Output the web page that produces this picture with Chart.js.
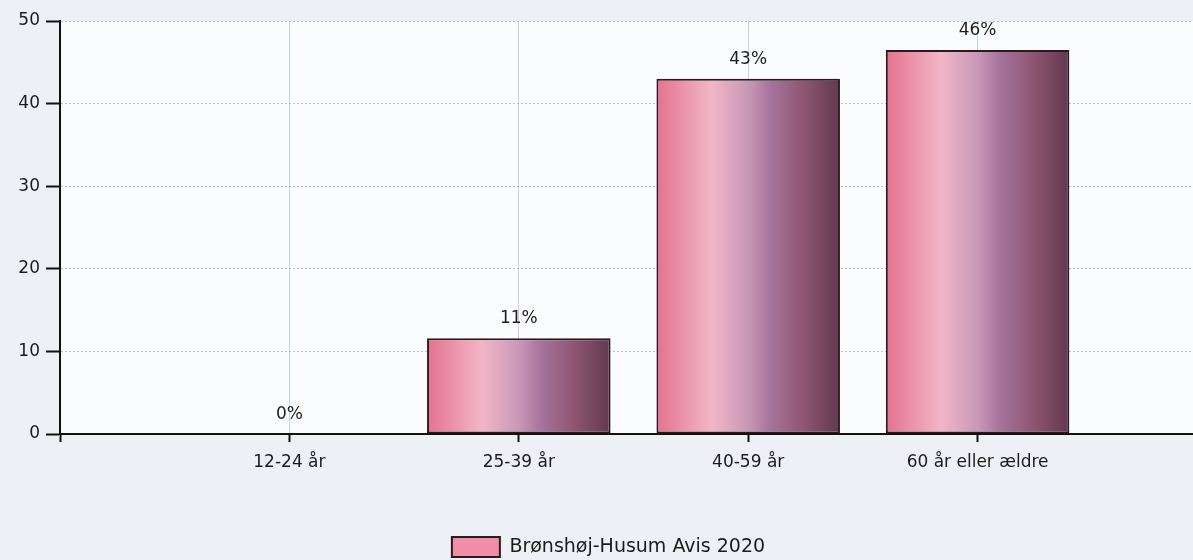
<!DOCTYPE html>
<html>
<head>
<meta charset="utf-8">
<script src="https://cdn.jsdelivr.net/npm/chart.js@4.4.1/dist/chart.umd.min.js"></script>
<style>
  html, body { margin: 0; padding: 0; overflow: hidden; background: #edf1f5; }
  #wrap { width: 1217px; height: 560px; }
</style>
</head>
<body>
<div id="wrap"><canvas id="ageChart" width="1217" height="560"></canvas></div>
<script>
// Data
const categories = ["12-24 år", "25-39 år", "40-59 år", "60 år eller ældre"];
const values = [0, 11.6, 43, 46.5];
const valueLabels = ["0%", "11%", "43%", "46%"];
const yTicks = [0, 10, 20, 30, 40, 50];
const seriesName = "Brønshøj-Husum Avis 2020";

// empty slot on each side, like the original axis
const axisLabels = [""].concat(categories, [""]);
const axisValues = [null].concat(values, [null]);

const fontFamily = "'DejaVu Sans', Verdana, sans-serif";

// light page + white plot area
const backgroundPlugin = {
    id: "backgroundPlugin",
    beforeDraw(chart) {
        const ctx = chart.ctx;
        const a = chart.chartArea;
        ctx.save();
        ctx.fillStyle = "#edf1f5";
        ctx.fillRect(0, 0, chart.width, chart.height);
        ctx.fillStyle = "#fbfcfd";
        ctx.fillRect(a.left, a.top, a.right - a.left, a.bottom - a.top);
        ctx.restore();
    }
};

// horizontal gradient on each bar
const gradientPlugin = {
    id: "gradientPlugin",
    beforeDatasetsDraw(chart) {
        const ctx = chart.ctx;
        chart.getDatasetMeta(0).data.forEach(bar => {
            if (bar.x == null || isNaN(bar.x)) return;
            const left = bar.x - bar.width / 2;
            const g = ctx.createLinearGradient(left, 0, left + bar.width, 0);
            g.addColorStop(0, "#e4728e");
            g.addColorStop(0.3, "#f2b6c6");
            g.addColorStop(0.5, "#c898b8");
            g.addColorStop(0.62, "#a6749c");
            g.addColorStop(0.8, "#8e5672");
            g.addColorStop(1, "#62384e");
            bar.options = Object.assign({}, bar.options, { backgroundColor: g });
        });
    }
};

// percent labels over the bars
const valueLabelPlugin = {
    id: "valueLabelPlugin",
    afterDatasetsDraw(chart) {
        const ctx = chart.ctx;
        const meta = chart.getDatasetMeta(0);
        ctx.save();
        ctx.font = "17px " + fontFamily;
        ctx.fillStyle = "#1c1c1c";
        ctx.textAlign = "center";
        ctx.textBaseline = "bottom";
        categories.forEach((c, i) => {
            const bar = meta.data[i + 1];
            ctx.fillText(valueLabels[i], bar.x, bar.y - 11);
        });
        ctx.restore();
    }
};

const ctx = document.getElementById("ageChart").getContext("2d");
new Chart(ctx, {
    type: "bar",
    data: {
        labels: axisLabels,
        datasets: [{
            label: seriesName,
            data: axisValues,
            backgroundColor: "#f08ea8",
            borderColor: "#2a1a1e",
            borderWidth: 2,
            borderSkipped: false,
            categoryPercentage: 0.8,
            barPercentage: 1
        }]
    },
    options: {
        responsive: false,
        animation: false,
        layout: { padding: { top: 21, left: 0, right: 0, bottom: -7 } },
        plugins: {
            tooltip: { enabled: false },
            legend: {
                position: "bottom",
                labels: {
                    boxWidth: 48,
                    boxHeight: 20,
                    padding: 4,
                    color: "#1c1c1c",
                    font: { family: fontFamily, size: 19 }
                }
            }
        },
        scales: {
            x: {
                offset: false,
                grid: {
                    offset: false,
                    color: "#c4d2e4",
                    lineWidth: 1,
                    tickColor: "#111",
                    tickWidth: 2,
                    tickLength: 8
                },
                border: { color: "#111", width: 2 },
                ticks: {
                    color: "#1c1c1c",
                    padding: 10,
                    maxRotation: 0,
                    autoSkip: false,
                    font: { family: fontFamily, size: 17 }
                },
                afterFit(scale) { scale.height = 99; }
            },
            y: {
                min: 0,
                max: 50,
                afterBuildTicks(scale) { scale.ticks = yTicks.map(v => ({ value: v })); },
                grid: {
                    color: "#b9c2cc",
                    lineWidth: 1,
                    tickColor: "#111",
                    tickWidth: 2,
                    tickLength: 14
                },
                border: { color: "#111", width: 2, dash: [2, 2] },
                ticks: {
                    color: "#1c1c1c",
                    padding: 6,
                    font: { family: fontFamily, size: 17 }
                },
                afterFit(scale) { scale.width = 60; }
            }
        }
    },
    plugins: [backgroundPlugin, gradientPlugin, valueLabelPlugin]
});
</script>
</body>
</html>
